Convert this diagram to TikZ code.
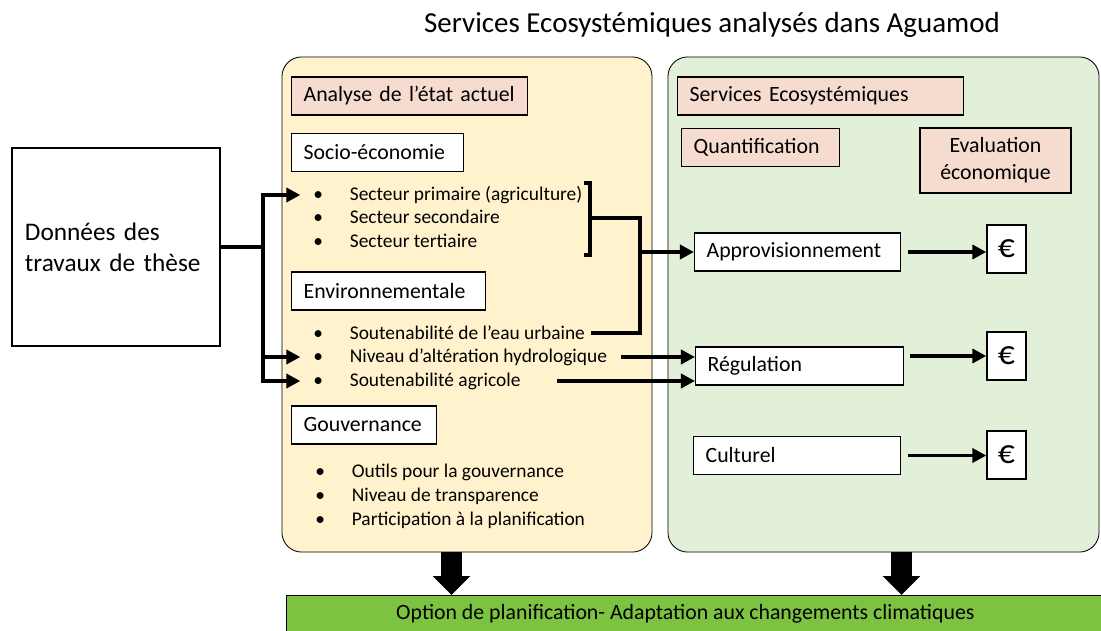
\documentclass[tikz,border=0pt]{standalone}
\usepackage{fontspec}
\setmainfont{Carlito}
\usetikzlibrary{arrows.meta}
\definecolor{jaune}{HTML}{FFF2CC}
\definecolor{vertclair}{HTML}{E2F0D9}
\definecolor{rose}{HTML}{F6DCCE}
\definecolor{vertbarre}{HTML}{7EC242}
\begin{document}
\begin{tikzpicture}[x=0.025cm, y=-0.025cm, >={Triangle[length=10pt, width=10pt]},
    cadre/.style={draw, line width=0.6pt, rounded corners=14pt},
    boite/.style={draw, line width=0.9pt, fill=white, align=left, inner xsep=0.3cm, inner ysep=0pt,
      minimum height=0.95cm, anchor=west, font=\fontsize{15.5}{18}\selectfont, text width=#1},
    titre/.style={boite=#1, fill=rose},
    puce/.style={anchor=west, inner sep=0pt, font=\fontsize{13.8}{16}\selectfont},
    lien/.style={line width=2.8pt},
    fleche/.style={lien, ->},
    euro/.style={draw, line width=0.9pt, fill=white, minimum width=0.975cm, minimum height=1.2cm,
      font=\fontsize{24}{26}\selectfont},
    grosse/.style={line width=15pt, -{Triangle[length=13.5pt, width=26pt]}}]
	\useasboundingbox (0,0) rectangle (1101,631);
	% titre
	\node[font=\fontsize{20.6}{24}\selectfont] (titre) at (712,25) {Services Ecosystémiques analysés dans Aguamod};
	% donnees
	\node[draw, line width=0.9pt, minimum width=5.2cm, minimum height=4.95cm, inner xsep=0.325cm,
	  text width=4.55cm, align=left, font=\fontsize{18}{22}\selectfont] (donnees) at (116,247)
	  {Données des\\travaux de thèse};
	% cadres
	\node[cadre, fill=jaune, minimum width=9.25cm, minimum height=12.375cm] (actuel) at (467,304.5) {};
	\node[cadre, fill=vertclair, minimum width=10.775cm, minimum height=12.375cm] (ecosys) at (883.5,304.5) {};
	% analyse de l'etat actuel
	\node[titre=5.3cm] (analyse) at (291,96) {Analyse de l’état actuel};
	\node[boite=3.7cm] (socio) at (291,152.5) {Socio-économie};
	\node[puce] (sec1) at (313,195) {\makebox[26pt][l]{\textbullet}Secteur primaire (agriculture)};
	\node[puce] (sec2) at (313,217) {\makebox[26pt][l]{\textbullet}Secteur secondaire};
	\node[puce] (sec3) at (313,241) {\makebox[26pt][l]{\textbullet}Secteur tertiaire};
	\node[boite=4.25cm] (envir) at (291,291) {Environnementale};
	\node[puce] (env1) at (313,333) {\makebox[26pt][l]{\textbullet}Soutenabilité de l’eau urbaine};
	\node[puce] (env2) at (313,357) {\makebox[26pt][l]{\textbullet}Niveau d’altération hydrologique};
	\node[puce] (env3) at (313,381) {\makebox[26pt][l]{\textbullet}Soutenabilité agricole};
	\node[boite=3.025cm] (gouv) at (291,425) {Gouvernance};
	\node[puce] (gov1) at (315,472) {\makebox[26pt][l]{\textbullet}Outils pour la gouvernance};
	\node[puce] (gov2) at (315,496) {\makebox[26pt][l]{\textbullet}Niveau de transparence};
	\node[puce] (gov3) at (315,520) {\makebox[26pt][l]{\textbullet}Participation à la planification};
	% services ecosystemiques
	\node[titre=6.55cm] (services) at (677,96) {Services Ecosystémiques};
	\node[titre=3.35cm] (quantif) at (681,147.5) {Quantification};
	\node[draw, fill=rose, line width=0.9pt, align=center, minimum width=3.775cm, minimum height=1.625cm,
	  font=\fontsize{15.5}{19}\selectfont] (evalu) at (995.5,160.5) {Evaluation\\économique};
	\node[boite=4.55cm] (appro) at (694,252) {Approvisionnement};
	\node[boite=4.6cm] (regul) at (695,366) {Régulation};
	\node[boite=4.575cm] (cultu) at (693,455.5) {Culturel};
	\node[euro] (eur1) at (1006.5,249) {€};
	\node[euro] (eur2) at (1006.5,356) {€};
	\node[euro] (eur3) at (1006.5,455) {€};
	% option
	\node[draw, line width=0.6pt, fill=vertbarre, minimum width=20.4cm, minimum height=0.925cm, anchor=north west,
	  font=\fontsize{15.5}{18}\selectfont] (option) at (286,595)
	  {\hspace*{-13pt}Option de planification- Adaptation aux changements climatiques};
	% liens
	\coordinate (depart) at (263,247);
	\draw[lien] (donnees.east) -- (depart);
	\draw[fleche, shorten >=9pt] (depart) |- (sec1.west);
	\draw[fleche, shorten >=9pt] (depart) |- (env2.west);
	\draw[fleche, shorten >=9pt] (depart) |- (env3.west);
	\draw[lien] (584,183) -- (590,183) -- (590,255) -- (584,255);
	\coordinate (crochet) at (590,218);
	\coordinate (jonction) at (640,252);
	\draw[lien] (crochet) -| (jonction) |- ([xshift=4pt]env1.east);
	\draw[fleche] (jonction) -- (appro.west);
	\draw[fleche, shorten <=10pt] (env2.east) -- (regul.west |- env2.east);
	\draw[fleche, shorten <=26pt] (env3.east) -- (regul.west |- env3.east);
	\draw[fleche, shorten <=5pt] (appro.east) -- (eur1.west |- appro.east);
	\draw[fleche, shorten <=4pt] (regul.east |- eur2.west) -- (eur2.west);
	\draw[fleche, shorten <=5pt] (cultu.east) -- (eur3.west |- cultu.east);
	% grosses fleches
	\coordinate (bas1) at (451.5,552);
	\coordinate (bas2) at (901.5,552);
	\draw[grosse] (bas1) -- (bas1 |- option.north);
	\draw[grosse] (bas2) -- (bas2 |- option.north);
\end{tikzpicture}
\end{document}
